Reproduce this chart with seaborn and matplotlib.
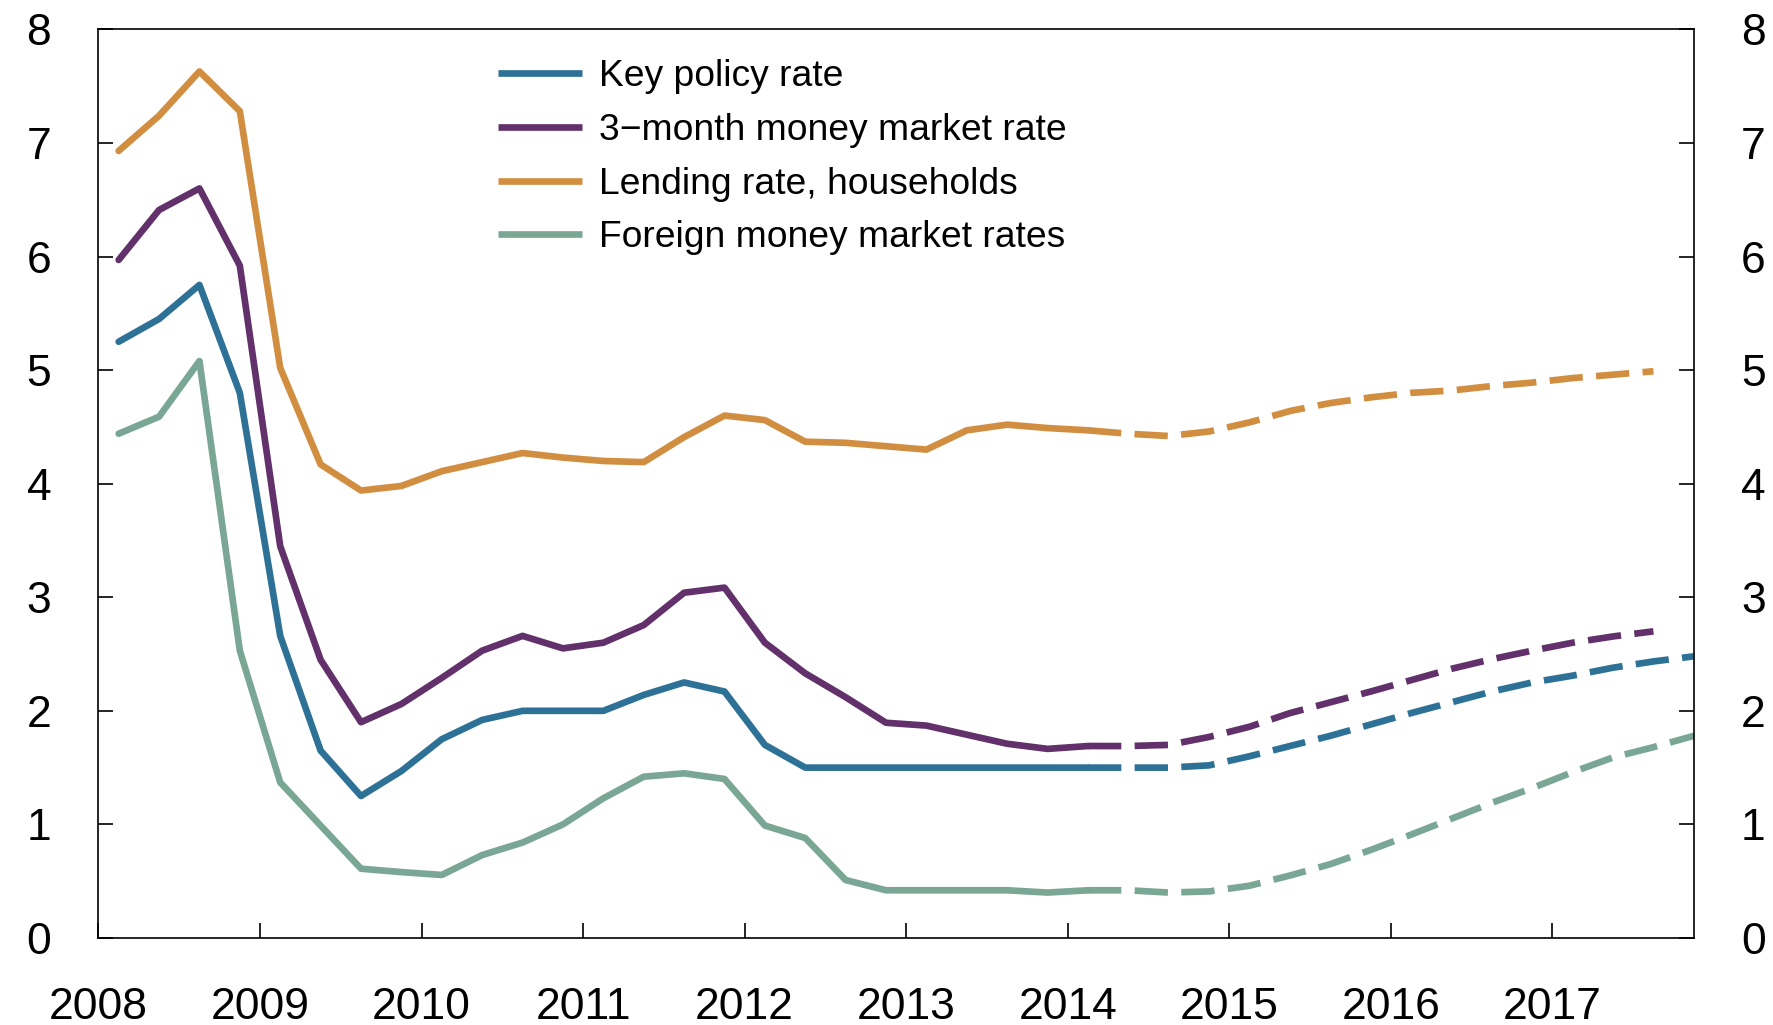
import numpy as np
import pandas as pd
import seaborn as sns
import matplotlib.pyplot as plt
from matplotlib.lines import Line2D

# quarterly data, 2008Q1 - 2017Q4, projections from 2014Q1
quarters = pd.period_range('2008Q1', '2017Q4', freq='Q')
key_policy = [5.25, 5.45, 5.75, 4.80, 2.66, 1.65, 1.25, 1.47, 1.75, 1.92,
              2.00, 2.00, 2.00, 2.14, 2.25, 2.17, 1.70, 1.50, 1.50, 1.50,
              1.50, 1.50, 1.50, 1.50, 1.50, 1.50, 1.50, 1.52, 1.60, 1.69,
              1.78, 1.88, 1.98, 2.075, 2.17, 2.25, 2.31, 2.38, 2.435, 2.48]
money_3m = [5.97, 6.41, 6.60, 5.92, 3.45, 2.45, 1.90, 2.06, 2.29, 2.53,
            2.66, 2.55, 2.60, 2.755, 3.04, 3.085, 2.60, 2.33, 2.12, 1.895,
            1.87, 1.79, 1.71, 1.665, 1.69, 1.69, 1.70, 1.77, 1.86, 1.98,
            2.075, 2.17, 2.27, 2.37, 2.455, 2.53, 2.60, 2.655, 2.70]
lending = [6.93, 7.24, 7.63, 7.28, 5.02, 4.17, 3.94, 3.98, 4.11, 4.19,
           4.27, 4.23, 4.20, 4.19, 4.41, 4.60, 4.56, 4.37, 4.36, 4.33,
           4.30, 4.47, 4.52, 4.49, 4.47, 4.44, 4.42, 4.46, 4.54, 4.64,
           4.71, 4.76, 4.80, 4.82, 4.86, 4.89, 4.93, 4.96, 4.99]
foreign = [4.44, 4.59, 5.08, 2.53, 1.37, 0.99, 0.61, 0.58, 0.555, 0.73,
           0.84, 1.00, 1.23, 1.42, 1.45, 1.40, 0.99, 0.88, 0.51, 0.42,
           0.42, 0.42, 0.42, 0.40, 0.42, 0.42, 0.40, 0.41, 0.46, 0.55,
           0.65, 0.775, 0.91, 1.05, 1.19, 1.32, 1.46, 1.59, 1.68, 1.78]

labels = ['Key policy rate', '3\u2212month money market rate',
          'Lending rate, households', 'Foreign money market rates']
colors = ['#2E7196', '#62306A', '#D28E40', '#7AA696']
series = [key_policy, money_3m, lending, foreign]
proj_start = 24  # 2014Q1

x = quarters.year + (quarters.quarter - 0.5) / 4

sns.set_style('ticks')
plt.rcParams['font.family'] = ['Liberation Sans', 'DejaVu Sans']
plt.rcParams['text.color'] = 'black'
plt.rcParams['xtick.color'] = 'black'
plt.rcParams['ytick.color'] = 'black'

fig, ax = plt.subplots(figsize=(17.74, 10.25), dpi=100)
fig.subplots_adjust(left=0.0555, right=0.9548, bottom=0.0849, top=0.9713)

lw = 4.8
for vals, c in zip(series, colors):
    df = pd.DataFrame({'date': x[:len(vals)], 'value': vals})
    hist = df.iloc[:proj_start + 1]
    proj = df.iloc[proj_start:]
    sns.lineplot(data=hist, x='date', y='value', color=c, linewidth=lw, ax=ax,
                 estimator=None)
    sns.lineplot(data=proj, x='date', y='value', color=c, linewidth=lw, ax=ax,
                 estimator=None, linestyle=(0, (5, 2)))

ax.set_xlim(2008, 2017.875)
ax.set_ylim(0, 8)
ax.set_xticks(range(2008, 2018))
ax.set_yticks(range(0, 9))
ax.set_xlabel(None)
ax.set_ylabel(None)
ax.tick_params(axis='x', direction='in', length=11, width=1.2, labelsize=32, pad=35,
               top=False)
ax.tick_params(axis='y', direction='in', length=11, width=1.2, labelsize=32, pad=34,
               left=True, right=True, labelleft=True, labelright=True)
for s in ax.spines.values():
    s.set_visible(True)
    s.set_linewidth(1.2)
    s.set_color('black')

handles = [Line2D([], [], color=c, lw=lw, solid_capstyle='butt') for c in colors]
ax.legend(handles, labels, loc='upper left', bbox_to_anchor=(0.2505, 0.967),
          frameon=False, fontsize=26.8, borderpad=0, borderaxespad=0,
          handlelength=2.26, handletextpad=0.45, labelspacing=0.50)

fig.savefig('out.png', dpi=100)
